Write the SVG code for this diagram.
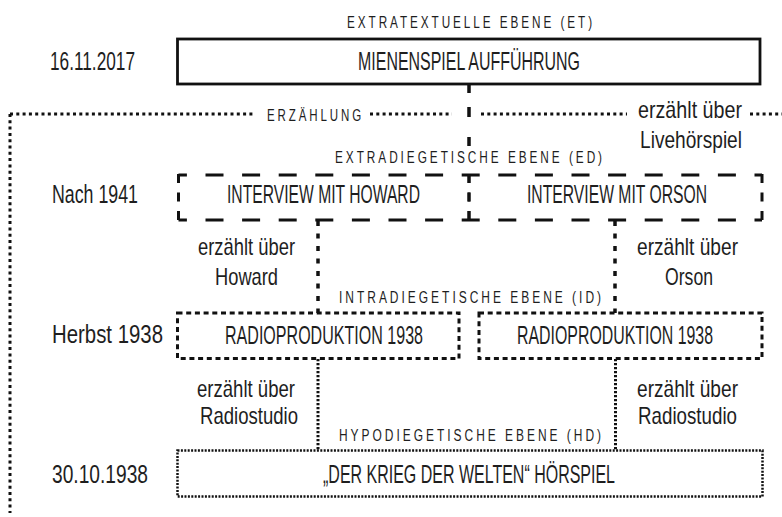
<svg xmlns="http://www.w3.org/2000/svg" width="782" height="517" viewBox="0 0 782 517">
<style>
  text { font-family: "Liberation Sans", Arial, sans-serif; fill: #1e1e1e; text-anchor: middle; }
  .big { font-size: 20px; }
  .mid { font-size: 18.4px; }
  .lab { font-size: 16px; letter-spacing: 4px; }
  .ln { fill: none; stroke: #111; }
  .solid { stroke-width: 2.8; }
  .frame { stroke-width: 3; stroke-dasharray: 3 3.3; }
  .edh { stroke-width: 3; stroke-dasharray: 18 18.6; stroke-dashoffset: 9.6; }
  .edh2 { stroke-width: 3; stroke-dasharray: 18 18.6; stroke-dashoffset: 7.3; }
  .edv { stroke-width: 3; stroke-dasharray: 9 9.5; }
  .rp { stroke-width: 3; stroke-dasharray: 5 3.7; }
  .c1 { stroke-width: 3.5; stroke-dasharray: 5 7.5; }
  .c2 { stroke-width: 3; stroke-dasharray: 2.3 1.7; }
  .hd { stroke-width: 2.5; stroke-dasharray: 2 1.4; }
</style>

<g id="labels">
  <text class="lab" x="471" y="28" textLength="248" lengthAdjust="spacingAndGlyphs">EXTRATEXTUELLE EBENE (ET)</text>
  <text class="lab" x="470" y="163" textLength="270" lengthAdjust="spacingAndGlyphs">EXTRADIEGETISCHE EBENE (ED)</text>
  <text class="lab" x="471.5" y="303" textLength="265" lengthAdjust="spacingAndGlyphs">INTRADIEGETISCHE EBENE (ID)</text>
  <text class="lab" x="471.5" y="441" textLength="265" lengthAdjust="spacingAndGlyphs">HYPODIEGETISCHE EBENE (HD)</text>
  <text class="big" transform="translate(92.5 70) scale(1 1.25)" textLength="85" lengthAdjust="spacingAndGlyphs">16.11.2017</text>
  <text class="big" transform="translate(95 203) scale(1 1.25)" textLength="86" lengthAdjust="spacingAndGlyphs">Nach 1941</text>
  <text class="big" transform="translate(107.5 343) scale(1 1.25)" textLength="111" lengthAdjust="spacingAndGlyphs">Herbst 1938</text>
  <text class="big" transform="translate(100 483) scale(1 1.25)" textLength="96" lengthAdjust="spacingAndGlyphs">30.10.1938</text>
</g>

<g id="connectors">
  <path class="ln frame" d="M10 114 V513"/>
  <path class="ln frame" d="M10 114 H253"/>
  <path class="ln frame" d="M370 114 H452"/>
  <path class="ln frame" d="M481 114 H627"/>
  <path class="ln frame" d="M750 114 H782"/>
  <text class="lab" x="315.5" y="121" textLength="97" lengthAdjust="spacingAndGlyphs">ERZÄHLUNG</text>
  <text class="mid" transform="translate(690 118) scale(1 1.25)" textLength="104" lengthAdjust="spacingAndGlyphs">erzählt über</text>
  <text class="mid" transform="translate(691 148) scale(1 1.25)" textLength="102" lengthAdjust="spacingAndGlyphs">Livehörspiel</text>
  <path class="ln" stroke-width="3.5" d="M469 84 V93 M469 107 V117 M469 137 V146"/>
  <path class="ln c1" d="M318 221 V313"/>
  <path class="ln c1" d="M615 221 V313"/>
  <text class="mid" transform="translate(246.5 255) scale(1 1.25)" textLength="97" lengthAdjust="spacingAndGlyphs">erzählt über</text>
  <text class="mid" transform="translate(246.5 285) scale(1 1.25)" textLength="63" lengthAdjust="spacingAndGlyphs">Howard</text>
  <text class="mid" transform="translate(687.5 255) scale(1 1.25)" textLength="101" lengthAdjust="spacingAndGlyphs">erzählt über</text>
  <text class="mid" transform="translate(689 285) scale(1 1.25)" textLength="48" lengthAdjust="spacingAndGlyphs">Orson</text>
  <path class="ln c2" d="M318 359 V450"/>
  <path class="ln c2" d="M615.5 359 V450"/>
  <text class="mid" transform="translate(246 397) scale(1 1.25)" textLength="98" lengthAdjust="spacingAndGlyphs">erzählt über</text>
  <text class="mid" transform="translate(249 424) scale(1 1.25)" textLength="98" lengthAdjust="spacingAndGlyphs">Radiostudio</text>
  <text class="mid" transform="translate(687.5 397) scale(1 1.25)" textLength="101" lengthAdjust="spacingAndGlyphs">erzählt über</text>
  <text class="mid" transform="translate(687.5 424) scale(1 1.25)" textLength="99" lengthAdjust="spacingAndGlyphs">Radiostudio</text>
</g>

<g id="et">
  <rect class="ln solid" x="177.5" y="39" width="582.5" height="45"/>
  <text class="big" transform="translate(469 70) scale(1 1.25)" textLength="222" lengthAdjust="spacingAndGlyphs">MIENENSPIEL AUFFÜHRUNG</text>
</g>

<g id="ed-howard">
  <path class="ln edh" d="M178.5 175 H469 M178.5 220 H469"/>
  <path class="ln edv" d="M178.5 174 V221 M469 174 V221"/>
  <text class="big" transform="translate(323.5 203) scale(1 1.25)" textLength="193" lengthAdjust="spacingAndGlyphs">INTERVIEW MIT HOWARD</text>
</g>
<g id="ed-orson">
  <path class="ln edh2" d="M469 175 H762 M469 220 H762"/>
  <path class="ln edv" d="M469 174 V221 M762 174 V221"/>
  <text class="big" transform="translate(617 203) scale(1 1.25)" textLength="180" lengthAdjust="spacingAndGlyphs">INTERVIEW MIT ORSON</text>
</g>

<g id="id-left">
  <rect class="ln rp" x="177.5" y="313" width="281.5" height="45.5"/>
  <text class="big" transform="translate(324 344) scale(1 1.25)" textLength="198" lengthAdjust="spacingAndGlyphs">RADIOPRODUKTION 1938</text>
</g>
<g id="id-right">
  <rect class="ln rp" x="479" y="313" width="283" height="45.5"/>
  <text class="big" transform="translate(615 344) scale(1 1.25)" textLength="196" lengthAdjust="spacingAndGlyphs">RADIOPRODUKTION 1938</text>
</g>

<g id="hd">
  <rect class="ln hd" x="177.5" y="450.5" width="585" height="46"/>
  <text class="big" transform="translate(469 483) scale(1 1.25)" textLength="292" lengthAdjust="spacingAndGlyphs">„DER KRIEG DER WELTEN“ HÖRSPIEL</text>
</g>
</svg>
